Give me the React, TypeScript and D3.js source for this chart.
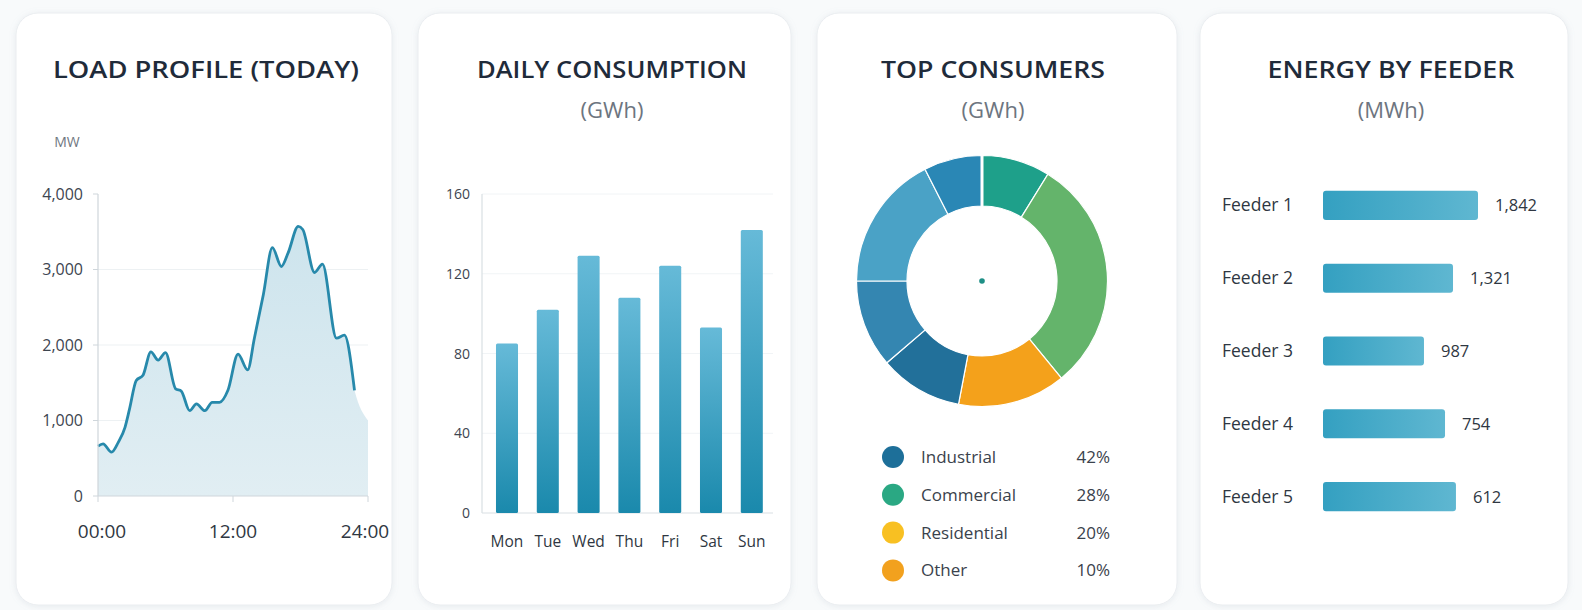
import React from "react";
import * as d3 from "d3";

// ---------- DATA ----------
const loadHours = [0, 0.45, 1.2, 1.8, 2.4, 2.8, 3.4, 4.0, 4.7, 5.35, 6.0, 6.9, 7.4, 8.15, 8.75, 9.5, 10.15, 10.8, 11.55, 12.45, 13.3, 13.9, 14.7, 15.5, 16.3, 16.9, 17.8, 18.2, 19.25, 19.95, 21.2, 21.9, 22.8];
const loadMW = [660, 690, 580, 710, 910, 1150, 1530, 1600, 1910, 1800, 1900, 1420, 1390, 1130, 1220, 1130, 1240, 1240, 1400, 1880, 1670, 2090, 2670, 3290, 3040, 3220, 3570, 3530, 2960, 3070, 2090, 2130, 1400];
const areaTailHour = [24];
const areaTailMW = [1000];
const loadYTicks = [0, 1000, 2000, 3000, 4000];
const loadXTicks = [0, 12, 24];
const loadXTickLabels = ["00:00", "12:00", "24:00"];

const days = ["Mon", "Tue", "Wed", "Thu", "Fri", "Sat", "Sun"];
const dailyGWh = [85, 102, 129, 108, 124, 93, 142];
const dailyYTicks = [0, 40, 80, 120, 160];

const donutSegmentShare = [8.8, 30.3, 13.9, 10.7, 11.3, 17.5, 7.5];
const donutSegmentColors = ["#1ea08a", "#64b46b", "#f4a11b", "#22709a", "#3486b1", "#4aa2c6", "#2a87b5"];
const legendLabels = ["Industrial", "Commercial", "Residential", "Other"];
const legendPercents = ["42%", "28%", "20%", "10%"];
const legendColors = ["#1d6f99", "#2aa883", "#f8c022", "#f2a11e"];

const feeders = ["Feeder 1", "Feeder 2", "Feeder 3", "Feeder 4", "Feeder 5"];
const feederBarExtent = [1842, 1545, 1200, 1450, 1580];
const feederValueLabels = ["1,842", "1,321", "987", "754", "612"];

// ---------- LAYOUT ----------
const FONT = "'Open Sans', 'Noto Sans', sans-serif";
const cards = [
  { x: 16, w: 376, title: "LOAD PROFILE (TODAY)", tw: 306, cx: 206, sub: "" },
  { x: 418, w: 373, title: "DAILY CONSUMPTION", tw: 270, cx: 612, sub: "(GWh)" },
  { x: 817, w: 360, title: "TOP CONSUMERS", tw: 224, cx: 993, sub: "(GWh)" },
  { x: 1200, w: 368, title: "ENERGY BY FEEDER", tw: 247, cx: 1391, sub: "(MWh)" },
];

export default function App() {
  // Load profile
  const lx = d3.scaleLinear().domain([0, 24]).range([98, 368]);
  const ly = d3.scaleLinear().domain([0, 4000]).range([496, 194]);
  const linePts = loadHours.map((h, i) => [h, loadMW[i]] as [number, number]);
  const areaPts = linePts.concat(areaTailHour.map((h, i) => [h, areaTailMW[i]] as [number, number]));
  const line = d3.line<[number, number]>().x(d => lx(d[0])).y(d => ly(d[1])).curve(d3.curveMonotoneX);
  const area = d3.area<[number, number]>().x(d => lx(d[0])).y0(ly(0)).y1(d => ly(d[1])).curve(d3.curveMonotoneX);

  // Daily consumption
  const bx = d3.scaleBand<string>().domain(days).range([486.6, 772.2]).paddingInner(0.46).paddingOuter(0.23);
  const by = d3.scaleLinear().domain([0, 160]).range([513, 194]);

  // Donut
  const pie = d3.pie<number>().sort(null).startAngle(0).endAngle(2 * Math.PI);
  const arcs = pie(donutSegmentShare);
  const arcGen = d3.arc<d3.PieArcDatum<number>>().innerRadius(75).outerRadius(125.5);
  const dcx = 982, dcy = 281;

  // Feeder bars
  const fx = d3.scaleLinear().domain([0, 1842]).range([1323, 1478]);
  const fy = d3.scaleBand<string>().domain(feeders).range([169, 533]).paddingInner(0.6).paddingOuter(0.3);

  return (
    <svg width={1582} height={610} style={{ position: "absolute", left: 0, top: 0, fontFamily: FONT }}>
      <defs>
        <filter id="shadow" x="-10%" y="-10%" width="120%" height="120%">
          <feDropShadow dx="0" dy="1" stdDeviation="3" floodColor="#8a9aa8" floodOpacity="0.16" />
        </filter>
        <linearGradient id="areaGrad" x1="0" y1="0" x2="0" y2="1">
          <stop offset="0%" stopColor="#cde4ed" />
          <stop offset="100%" stopColor="#e1eef3" />
        </linearGradient>
        <linearGradient id="barGrad" x1="0" y1="0" x2="0" y2="1">
          <stop offset="0%" stopColor="#66bad8" />
          <stop offset="100%" stopColor="#1a89ac" />
        </linearGradient>
        <linearGradient id="hbarGrad" x1="0" y1="0" x2="1" y2="0">
          <stop offset="0%" stopColor="#34a0c1" />
          <stop offset="100%" stopColor="#5fb7d1" />
        </linearGradient>
      </defs>
      <rect x={0} y={0} width={1582} height={610} fill="#f8fafb" />
      {cards.map((c, i) => (
        <g key={i}>
          <rect x={c.x} y={13} width={c.w} height={592} rx={22} fill="#ffffff" stroke="#eaedf0" strokeWidth={1} filter="url(#shadow)" />
          <text x={c.cx} y={78} textAnchor="middle" fontSize={23} fontWeight={600} fill="#1f2b3a" textLength={c.tw} lengthAdjust="spacingAndGlyphs">{c.title}</text>
          {c.sub && <text x={c.cx} y={118} textAnchor="middle" fontSize={22} fill="#6d7580">{c.sub}</text>}
        </g>
      ))}

      {/* ---- Load profile ---- */}
      <text x={67} y={147} textAnchor="middle" fontSize={14} fill="#6f777f">MW</text>
      {loadYTicks.filter(t => t > 0 && t < 4000).map(t => (
        <line key={t} x1={lx(0)} x2={lx(24)} y1={ly(t)} y2={ly(t)} stroke="#edf1f3" strokeWidth={1} />
      ))}
      <path d={area(areaPts) || ""} fill="url(#areaGrad)" />
      <path d={line(linePts) || ""} fill="none" stroke="#2789ab" strokeWidth={2.8} strokeLinejoin="round" />
      <line x1={lx(0)} x2={lx(0)} y1={ly(4000)} y2={ly(0)} stroke="#cfd6db" strokeWidth={1.2} />
      <line x1={lx(0)} x2={lx(24)} y1={ly(0)} y2={ly(0)} stroke="#cfd6db" strokeWidth={1.2} />
      {loadYTicks.map(t => (
        <g key={t}>
          <line x1={lx(0) - 5} x2={lx(0)} y1={ly(t)} y2={ly(t)} stroke="#cfd6db" />
          <text x={83} y={ly(t) + 5.5} textAnchor="end" fontSize={16} fill="#3d4550">{d3.format(",")(t)}</text>
        </g>
      ))}
      {loadXTicks.map((t, i) => (
        <g key={t}>
          <line x1={lx(t)} x2={lx(t)} y1={ly(0)} y2={ly(0) + 6} stroke="#cfd6db" />
          <text x={lx(t) + (i === 0 ? 4 : i === 2 ? -3 : 0)} y={538} textAnchor="middle" fontSize={19} fill="#2f3742">{loadXTickLabels[i]}</text>
        </g>
      ))}

      {/* ---- Daily consumption ---- */}
      {dailyYTicks.filter(t => t > 0).map(t => (
        <line key={t} x1={482} x2={773} y1={by(t)} y2={by(t)} stroke="#f1f4f6" strokeWidth={1} />
      ))}
      <line x1={482} x2={482} y1={by(160)} y2={by(0)} stroke="#d9dfe3" strokeWidth={1.2} />
      <line x1={482} x2={773} y1={by(0)} y2={by(0)} stroke="#d9dfe3" strokeWidth={1.2} />
      {dailyYTicks.map(t => (
        <text key={t} x={470} y={by(t) + 5} textAnchor="end" fontSize={14} fill="#3d4550">{t}</text>
      ))}
      {days.map((d, i) => (
        <g key={d}>
          <rect x={bx(d)} y={by(dailyGWh[i])} width={bx.bandwidth()} height={by(0) - by(dailyGWh[i])} fill="url(#barGrad)" rx={1.5} />
          <text x={(bx(d) || 0) + bx.bandwidth() / 2} y={547} textAnchor="middle" fontSize={15.5} fill="#2f3742">{d}</text>
        </g>
      ))}

      {/* ---- Top consumers donut ---- */}
      <g transform={`translate(${dcx},${dcy})`}>
        {arcs.map((a, i) => (
          <path key={i} d={arcGen(a) || ""} fill={donutSegmentColors[i]} stroke="#ffffff" strokeWidth={1.2} />
        ))}
        <line x1={0} x2={0} y1={-126} y2={-75} stroke="#ffffff" strokeWidth={3} />
        <circle cx={0} cy={0} r={2.8} fill="#1e8f86" />
      </g>
      {legendLabels.map((l, i) => (
        <g key={l}>
          <circle cx={893} cy={457 + i * 37.8} r={11} fill={legendColors[i]} />
          <text x={921} y={457 + i * 37.8 + 6} fontSize={17} fill="#3a424c">{l}</text>
          <text x={1110} y={457 + i * 37.8 + 6} textAnchor="end" fontSize={17} fill="#3a424c">{legendPercents[i]}</text>
        </g>
      ))}

      {/* ---- Energy by feeder ---- */}
      {feeders.map((f, i) => {
        const y = fy(f) || 0;
        const h = fy.bandwidth();
        return (
          <g key={f}>
            <text x={1222} y={y + h / 2 + 6} fontSize={17.5} fill="#2f3742">{f}</text>
            <rect x={fx(0)} y={y} width={fx(feederBarExtent[i]) - fx(0)} height={h} rx={3} fill="url(#hbarGrad)" />
            <text x={fx(feederBarExtent[i]) + 17} y={y + h / 2 + 6} fontSize={16.5} fill="#2f3742">{feederValueLabels[i]}</text>
          </g>
        );
      })}
    </svg>
  );
}
